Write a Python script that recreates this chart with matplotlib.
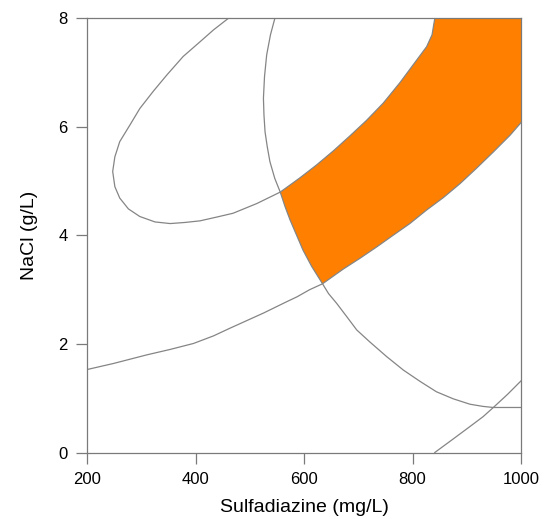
import numpy as np
import matplotlib
matplotlib.use("Agg")
import matplotlib.pyplot as plt

plt.rcParams['font.family'] = ['Liberation Sans', 'DejaVu Sans']

# contour lines (x = Sulfadiazine mg/L, y = NaCl g/L)
# curve A: left loop, continues as the upper edge of the orange zone
curve_a_x = [460, 433, 408, 377, 347, 322, 297, 279, 260, 251, 247, 251, 260, 276, 297, 325, 353, 380,
             408, 439, 469, 513, 556, 592, 623, 654, 685, 715, 746, 777, 800, 826, 836, 841]
curve_a_y = [8.0, 7.79, 7.57, 7.30, 6.96, 6.66, 6.34, 6.04, 5.73, 5.45, 5.18, 4.90, 4.69, 4.49, 4.35, 4.25, 4.22, 4.24,
             4.27, 4.34, 4.41, 4.59, 4.80, 5.06, 5.30, 5.56, 5.84, 6.12, 6.44, 6.82, 7.13, 7.48, 7.70, 8.0]
# curve B: near-vertical curve, left edge of the orange zone, runs down to the right
curve_b_x = [546, 538, 531, 527, 525, 526, 528, 532, 537, 546, 556, 565, 574, 586, 598, 614, 634,
             645, 660, 679, 697, 721, 752, 783, 814, 844, 875, 906, 930, 949, 1000]
curve_b_y = [8.0, 7.70, 7.33, 6.93, 6.53, 6.22, 5.91, 5.64, 5.36, 5.05, 4.80, 4.53, 4.29, 4.01, 3.73, 3.43, 3.11,
             2.93, 2.75, 2.50, 2.26, 2.04, 1.77, 1.52, 1.31, 1.12, 0.99, 0.89, 0.85, 0.83, 0.83]
# curve C: lower curve, lower edge of the orange zone
curve_c_x = [200, 248, 310, 353, 396, 433, 463, 494, 525, 568, 587, 610, 634,
             672, 703, 734, 765, 795, 826, 857, 888, 918, 949, 980, 1000]
curve_c_y = [1.53, 1.64, 1.80, 1.90, 2.01, 2.15, 2.29, 2.43, 2.57, 2.78, 2.87, 3.00, 3.11,
             3.38, 3.58, 3.79, 4.01, 4.22, 4.47, 4.70, 4.96, 5.24, 5.54, 5.85, 6.08]
# curve D: small arc in the lower right corner
curve_d_x = [841, 875, 906, 930, 949, 975, 1000]
curve_d_y = [0.0, 0.25, 0.48, 0.66, 0.83, 1.07, 1.32]

x_ticks = [200, 400, 600, 800, 1000]
y_ticks = [0, 2, 4, 6, 8]

line_color = '#858585'
fill_color = '#ff8000'
frame_color = '#7a7a7a'

fig = plt.figure(figsize=(5.44, 5.19), dpi=100)
ax = fig.add_axes([0.1603, 0.1281, 0.7974, 0.8363])

# orange zone: curve A (from the A/B crossing up to top), top edge, right edge,
# curve C back to the B/C crossing, curve B back up to the A/B crossing
ia = curve_a_x.index(556)
ic = curve_c_x.index(634)
ib0 = curve_b_x.index(556)
ib1 = curve_b_x.index(634)
poly_x = curve_a_x[ia:] + [1000] + curve_c_x[ic:][::-1] + curve_b_x[ib0:ib1 + 1][::-1]
poly_y = curve_a_y[ia:] + [8.0] + curve_c_y[ic:][::-1] + curve_b_y[ib0:ib1 + 1][::-1]
ax.fill(poly_x, poly_y, color=fill_color, lw=0, zorder=1)

for cx, cy in [(curve_a_x, curve_a_y), (curve_b_x, curve_b_y),
               (curve_c_x, curve_c_y), (curve_d_x, curve_d_y)]:
    ax.plot(cx, cy, color=line_color, lw=0.9, zorder=2, solid_joinstyle='round')

ax.set_xlim(200, 1000)
ax.set_ylim(0, 8)
ax.set_xticks(x_ticks)
ax.set_yticks(y_ticks)
ax.tick_params(direction='out', length=8, width=0.9, color=frame_color,
               labelsize=12, pad=6)
for s in ax.spines.values():
    s.set_color(frame_color)
    s.set_linewidth(0.9)

ax.set_xlabel('Sulfadiazine (mg/L)', fontsize=14, labelpad=9)
ax.set_ylabel('NaCl (g/L)', fontsize=14, labelpad=15)

fig.savefig('out.png', dpi=100)
